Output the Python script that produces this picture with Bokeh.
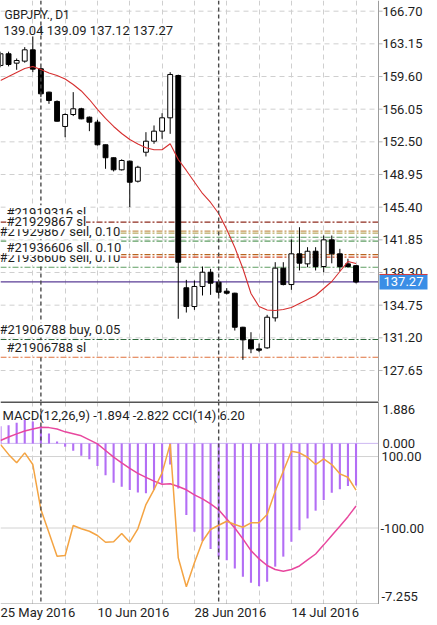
from bokeh.plotting import figure
from bokeh.models import Range1d, FixedTicker, Span, Label, Grid, ColumnDataSource
from bokeh.layouts import column
from bokeh.embed import file_html
from bokeh.resources import INLINE
from bokeh.core.properties import value

# ---------------- data ----------------
dates = ["2016-05-25", "2016-05-26", "2016-05-27", "2016-05-30", "2016-05-31",
         "2016-06-01", "2016-06-02", "2016-06-03", "2016-06-06", "2016-06-07",
         "2016-06-08", "2016-06-09", "2016-06-10", "2016-06-13", "2016-06-14",
         "2016-06-15", "2016-06-16", "2016-06-17", "2016-06-20", "2016-06-21",
         "2016-06-22", "2016-06-23", "2016-06-24", "2016-06-27", "2016-06-28",
         "2016-06-29", "2016-06-30", "2016-07-01", "2016-07-04", "2016-07-05",
         "2016-07-06", "2016-07-07", "2016-07-08", "2016-07-11", "2016-07-12",
         "2016-07-13", "2016-07-14", "2016-07-15", "2016-07-18", "2016-07-19",
         "2016-07-20", "2016-07-21", "2016-07-22", "2016-07-25", "2016-07-26"]

opens = [160.80, 162.07, 161.05, 161.27, 162.50, 160.44, 157.90, 156.89, 154.17, 155.47,
         156.09, 155.18, 154.64, 152.18, 150.77, 149.46, 150.40, 148.22, 151.37, 152.57,
         153.66, 155.11, 159.71, 136.64, 134.60, 136.78, 138.33, 137.24, 136.27, 136.05,
         132.35, 130.98, 130.00, 130.11, 133.37, 138.77, 136.99, 140.33, 139.24, 140.61,
         138.95, 141.85, 140.33, 139.24, 139.04]
highs = [162.30, 162.30, 161.56, 162.79, 163.95, 160.60, 157.95, 157.00, 155.60, 157.90,
         156.20, 155.25, 154.90, 152.20, 150.80, 150.60, 150.47, 149.90, 153.55, 154.28,
         155.61, 160.07, 159.80, 137.50, 137.43, 138.95, 138.70, 137.54, 136.60, 136.10,
         132.40, 131.81, 130.58, 133.70, 139.42, 139.42, 141.90, 143.22, 141.05, 141.05,
         142.32, 142.32, 140.87, 139.79, 139.09]
lows = [160.60, 160.70, 160.33, 161.10, 160.07, 157.35, 156.63, 154.70, 153.00, 155.30,
        154.95, 153.66, 152.10, 149.57, 149.28, 149.38, 145.40, 148.08, 150.91, 152.29,
        152.83, 153.37, 133.27, 133.95, 134.24, 135.80, 135.87, 135.80, 135.90, 131.99,
        128.81, 129.53, 129.64, 130.00, 132.97, 136.90, 136.42, 138.52, 138.87, 138.52,
        138.33, 139.30, 138.44, 138.80, 137.12]
closes = [162.07, 160.91, 161.34, 162.50, 160.40, 157.72, 156.99, 154.74, 155.47, 156.09,
          155.00, 154.64, 152.18, 150.77, 149.46, 150.47, 148.11, 149.74, 152.57, 153.66,
          155.11, 159.82, 139.42, 134.60, 136.78, 138.33, 137.14, 136.16, 136.05, 132.35,
          130.98, 130.00, 129.85, 133.44, 138.77, 136.99, 140.33, 139.31, 140.61, 138.95,
          141.85, 140.33, 138.95, 138.95, 137.27]
moving_avg = [159.17, 159.60, 160.04, 160.47, 160.69, 160.36, 159.98, 159.71, 159.33, 158.73,
              158.03, 157.10, 156.02, 155.04, 154.17, 153.41, 152.75, 152.27, 151.85, 151.64,
              151.64, 152.29, 150.58, 149.39, 148.14, 146.89, 145.91, 144.71, 142.97, 141.02,
              138.73, 136.02, 134.60, 134.22, 134.17, 134.28, 134.49, 134.93, 135.36, 135.80,
              136.56, 137.32, 138.41, 139.49, 139.28]

macd_main = [0.77, 0.82, 0.93, 1.05, 0.98, 0.78, 0.45, 0.08, -0.15, -0.33,
             -0.56, -0.72, -1.02, -1.43, -1.77, -1.95, -2.10, -2.21, -2.25, -2.10,
             -1.80, -0.95, -2.03, -3.23, -3.98, -4.40, -4.76, -5.10, -5.26, -5.63,
             -6.00, -6.27, -6.43, -6.23, -5.55, -5.10, -4.43, -3.91, -3.38, -3.03,
             -2.55, -2.22, -2.07, -1.92, -1.894]
macd_signal = [0.13, 0.29, 0.43, 0.56, 0.65, 0.73, 0.71, 0.65, 0.52, 0.43,
               0.34, 0.16, -0.02, -0.32, -0.62, -0.88, -1.13, -1.35, -1.53, -1.70,
               -1.84, -1.82, -1.94, -2.09, -2.32, -2.50, -2.72, -2.99, -3.40, -3.81,
               -4.30, -4.83, -5.20, -5.50, -5.68, -5.76, -5.68, -5.52, -5.25, -4.98,
               -4.57, -4.15, -3.73, -3.30, -2.822]
cci = [133.6, 106.0, 82.4, 110.3, 77.6, -48.3, -113.4, -178.9, -176.9, -93.0,
       -102.2, -109.0, -121.0, -139.7, -138.6, -115.4, -139.7, -102.2, -34.3, 7.7,
       54.4, 135.5, -183.4, -264.5, -197.3, -136.9, -104.2, -92.2, -81.0, -90.2,
       -97.8, -85.5, -85.5, -62.2, 2.9, 58.9, 114.8, 110.3, 98.0, 77.6,
       93.6, 77.6, 51.6, 42.1, 6.20]

price_tick_labels = ["166.70", "163.15", "159.60", "156.05", "152.50", "148.95",
                     "145.40", "141.85", "138.30", "134.75", "131.20", "127.65"]
date_labels = ["25 May 2016", "10 Jun 2016", "28 Jun 2016", "14 Jul 2016"]
date_label_days = ["2016-05-25", "2016-06-10", "2016-06-28", "2016-07-14"]

order_line_prices = [143.77, 142.79, 142.57, 142.13, 141.70, 140.25, 139.96, 138.87, 131.02, 129.09]
order_texts = ["#21929867 sell, 0.10", "#21919316 sl", "#21929867 sl",
               "#21936606 sell, 0.10", "#21936606 sll. 0.10",
               "#21906788 buy, 0.05", "#21906788 sl"]
order_text_prices = [141.70, 143.77, 142.79, 138.87, 139.96, 131.02, 129.09]

symbol_title = "GBPJPY., D1"
ohlc_title = "139.04 139.09 137.12 137.27"
last_price = 137.27
macd_title = "MACD(12,26,9) -1.894 -2.822 CCI(14) 6.20"
macd_scale_labels = ["1.886", "0.000", "-7.255"]
cci_levels = [100.0, -100.0]

# ---------------- layout / styling ----------------
FONT = "Roboto"
TXT = "#1e1e1e"
GRID = "#cfcfcf"
AXIS = "#9c9c9c"
order_colors = ["#8e2b1e", "#c8975a", "#b9ab62", "#5f9e63", "#5f9e63",
                "#b8651f", "#d24a24", "#5f9e63", "#2f6a3e", "#e0713c"]

PX_PER_BAR = 8.08
W = 437
AX = 378 / PX_PER_BAR          # position of the price scale (data units)
n = len(dates)
idx = list(range(n))
grid_x = idx[::4]
month_starts = [i for i in range(1, n) if dates[i][5:7] != dates[i - 1][5:7]]

xr = Range1d(0.0, W / PX_PER_BAR)
common = dict(frame_width=W, toolbar_location=None, output_backend="svg",
              x_axis_type=None, y_axis_type=None, min_border_left=0,
              min_border_right=0, min_border_top=0, min_border_bottom=0,
              outline_line_color=None, background_fill_color="white",
              border_fill_color="white")

def hline(fig, ys, **kw):
    fig.segment(x0=[xr.start] * len(ys), x1=[AX] * len(ys), y0=ys, y1=ys, **kw)

# ---------------- main price panel ----------------
p = figure(frame_height=401, x_range=xr, y_range=Range1d(124.28, 167.86), **common)
ppx = 401 / (p.y_range.end - p.y_range.start)   # pixels per price unit

tick_vals = [float(s) for s in price_tick_labels]

p.add_layout(Grid(dimension=0, ticker=FixedTicker(ticks=grid_x), grid_line_color=GRID,
                  grid_line_dash="5 4", grid_line_width=1))
hline(p, tick_vals, line_color=GRID, line_dash="5 4", line_width=1)

for pr, col in zip(order_line_prices, order_colors):
    hline(p, [pr], line_color=col, line_dash="6 2 2 2", line_width=1.2)
hline(p, [last_price], line_color="#5a3c96", line_width=1.3)

up = [c >= o for o, c in zip(opens, closes)]
src = ColumnDataSource(dict(
    x=idx, o=opens, h=highs, l=lows, c=closes,
    top=[max(o, c) for o, c in zip(opens, closes)],
    bot=[min(o, c) for o, c in zip(opens, closes)],
    fill=["white" if u else "black" for u in up]))
p.segment(x0="x", y0="l", x1="x", y1="h", source=src, line_color="black", line_width=1)
p.vbar(x="x", width=0.6, top="top", bottom="bot", source=src, fill_color="fill",
       line_color="black", line_width=1)
p.line(idx, moving_avg, line_color="#d63030", line_width=1.1)

# price scale (drawn inside the frame, right of the chart area)
p.add_layout(Span(location=AX, dimension="height", line_color=AXIS, line_width=1))
p.segment(x0=[AX] * len(tick_vals), x1=[AX + 4 / PX_PER_BAR] * len(tick_vals),
          y0=tick_vals, y1=tick_vals, line_color="#b5b5b5", line_width=1)
p.text(x=[AX] * len(tick_vals), y=tick_vals, text=price_tick_labels, x_offset=4,
       text_baseline="middle", text_align="left", text_font=value(FONT),
       text_font_size="13px", text_color=TXT)
p.quad(left=[AX + 1 / PX_PER_BAR], right=[AX + 49 / PX_PER_BAR],
       bottom=[last_price - 7.5 / ppx], top=[last_price + 7.5 / ppx],
       fill_color="#3a8ee6", line_color=None)
p.segment(x0=[AX + 1 / PX_PER_BAR], x1=[AX + 49 / PX_PER_BAR],
          y0=[last_price + 7.5 / ppx], y1=[last_price + 7.5 / ppx],
          line_color="#d23a3a", line_width=1)
p.text(x=[AX], y=[last_price], text=[f"{last_price:.2f}"], x_offset=5,
       text_baseline="middle", text_align="left", text_font=value(FONT),
       text_font_size="13px", text_color="white")

for m_i in month_starts:
    p.add_layout(Span(location=m_i, dimension="height", line_color="#4a4a4a",
                      line_dash="4 3", line_width=1.4))

for t, pr in zip(order_texts, order_text_prices):
    is_sl = t.split(" ")[1].startswith("sl")
    p.add_layout(Label(x=6 if is_sl else -1, x_units="screen", y=pr, y_offset=2,
                       text=t, text_baseline="bottom", text_font=FONT,
                       text_font_size="13px", text_color=TXT,
                       background_fill_color="white", background_fill_alpha=1.0))

ytop = p.y_range.end
p.add_layout(Label(x=4, x_units="screen", y=ytop, y_offset=-7, text=symbol_title,
                   text_baseline="top", text_font=FONT, text_font_size="12px",
                   text_color=TXT))
p.add_layout(Label(x=3, x_units="screen", y=ytop, y_offset=-22, text=ohlc_title,
                   text_baseline="top", text_font=FONT, text_font_size="13px",
                   text_color=TXT))

# ---------------- MACD / CCI panel ----------------
mrange = Range1d(-7.255, 1.886)
m = figure(frame_height=203, x_range=xr, y_range=mrange, **common)
m.extra_y_ranges = {"cci": Range1d(-314.0, 254.0)}

m.add_layout(Grid(dimension=0, ticker=FixedTicker(ticks=grid_x), grid_line_color=GRID,
                  grid_line_dash="5 4", grid_line_width=1))
m.segment(x0=[xr.start] * 2, x1=[AX] * 2, y0=cci_levels, y1=cci_levels,
          y_range_name="cci", line_color="#d2d2d2", line_width=1)
hline(m, [0.0], line_color="#cdb8f2", line_width=1)

m.vbar(x=idx, top=macd_main, bottom=0, width=0.26, fill_color="#b36ef5",
       line_color=None)
m.line(idx, macd_signal, line_color="#e8479e", line_width=1.5)
m.line(idx, cci, line_color="#f4a443", line_width=1.5, y_range_name="cci")

# panel borders and scale
hline(m, [mrange.end], line_color="#555555", line_width=3)
hline(m, [mrange.start], line_color=AXIS, line_width=2)
m.add_layout(Span(location=AX, dimension="height", line_color=AXIS, line_width=1))
for m_i in month_starts:
    m.add_layout(Span(location=m_i, dimension="height", line_color="#4a4a4a",
                      line_dash="4 3", line_width=1.4))

sc = dict(text_align="left", text_font=value(FONT), text_font_size="13px",
          text_color=TXT)
m.text(x=[AX], y=[mrange.end], text=[macd_scale_labels[0]], x_offset=4, y_offset=3,
       text_baseline="top", **sc)
m.text(x=[AX], y=[0.0], text=[macd_scale_labels[1]], x_offset=4,
       text_baseline="middle", **sc)
m.text(x=[AX], y=[mrange.start], text=[macd_scale_labels[2]], x_offset=3, y_offset=-4,
       text_baseline="bottom", **sc)
m.text(x=[AX] * 2, y=cci_levels, text=[f"{v:.2f}" for v in cci_levels],
       x_offset=[3, 2], text_baseline="middle", y_range_name="cci", **sc)

m.add_layout(Label(x=2, x_units="screen", y=mrange.end, y_offset=-6, text=macd_title,
                   text_baseline="top", text_font=FONT, text_font_size="13px",
                   text_color=TXT))

# ---------------- date row ----------------
d = figure(frame_height=20, x_range=xr, y_range=Range1d(0, 1), **common)
d.text(x=[dates.index(s) for s in date_label_days], y=[0.6] * len(date_labels),
       text=date_labels, text_align="left", text_baseline="middle",
       text_font=value(FONT), text_font_size="13px", text_color=TXT)

layout = column(p, m, d, spacing=0)
html = file_html(layout, INLINE, title="GBPJPY D1")
html = html.replace("</head>", "<style>body{margin:0;}</style></head>", 1)
open("out.html", "w").write(html)
